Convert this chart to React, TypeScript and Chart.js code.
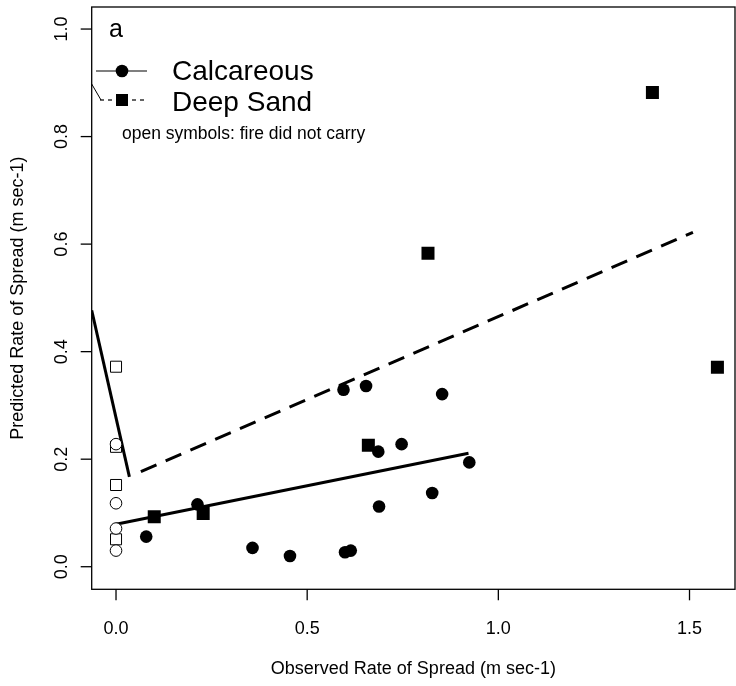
import { useEffect, useRef } from 'react';
import { Chart, registerables } from 'chart.js';

Chart.register(...registerables);

// Calcareous sites where fire carried (observed vs predicted spread, m/s)
const calcObserved = [0.079, 0.213, 0.357, 0.455, 0.595, 0.599, 0.614, 0.654, 0.686, 0.688, 0.747, 0.827, 0.853, 0.924];
const calcPredicted = [0.056, 0.116, 0.035, 0.020, 0.329, 0.027, 0.030, 0.336, 0.214, 0.112, 0.228, 0.137, 0.321, 0.194];

// Deep sand sites where fire carried
const sandObserved = [0.100, 0.228, 0.660, 0.816, 1.403, 1.573];
const sandPredicted = [0.093, 0.099, 0.226, 0.583, 0.882, 0.371];

// Fires that did not carry (observed spread = 0)
const calcNoCarryPredicted = [0.030, 0.071, 0.118, 0.228];
const sandNoCarryPredicted = [0.051, 0.152, 0.223, 0.372];

// Fitted lines
const calcFitX = [0, 0.922];
const calcFitY = [0.079, 0.211];
const sandFitX = [0.065, 1.509];
const sandFitY = [0.177, 0.622];
const steepFitX = [-0.0636, 0.035];
const steepFitY = [0.477, 0.167];

const xTicks = [0, 0.5, 1.0, 1.5];
const yTicks = [0, 0.2, 0.4, 0.6, 0.8, 1.0];

const X_MIN = -0.0636;
const X_MAX = 1.619;
const Y_MIN = -0.042;
const Y_MAX = 1.041;

const FONT = '"Liberation Sans", Arial, Helvetica, sans-serif';

const pts = (xs: number[], ys: number[]) => xs.map((x, i) => ({ x, y: ys[i] }));

const framePlugin = {
  id: 'rframe',
  afterDraw(chart: any) {
    const { ctx, chartArea: a, scales } = chart;
    const xs = scales.x;
    const ys = scales.y;
    ctx.save();
    ctx.strokeStyle = '#000';
    ctx.fillStyle = '#000';
    ctx.lineWidth = 1.3;
    // plot box
    ctx.strokeRect(a.left, a.top, a.right - a.left, a.bottom - a.top);

    // x axis ticks + labels
    ctx.font = `18px ${FONT}`;
    ctx.textAlign = 'center';
    ctx.textBaseline = 'middle';
    xTicks.forEach((v) => {
      const px = xs.getPixelForValue(v);
      ctx.beginPath();
      ctx.moveTo(px, a.bottom);
      ctx.lineTo(px, a.bottom + 11);
      ctx.stroke();
      ctx.fillText(v.toFixed(1), px, a.bottom + 40);
    });
    ctx.fillText('Observed Rate of Spread (m sec-1)', (a.left + a.right) / 2, a.bottom + 80);

    // y axis ticks + rotated labels
    yTicks.forEach((v) => {
      const py = ys.getPixelForValue(v);
      ctx.beginPath();
      ctx.moveTo(a.left, py);
      ctx.lineTo(a.left - 11, py);
      ctx.stroke();
      ctx.save();
      ctx.translate(a.left - 30, py);
      ctx.rotate(-Math.PI / 2);
      ctx.fillText(v.toFixed(1), 0, 0);
      ctx.restore();
    });
    ctx.save();
    ctx.translate(18, (a.top + a.bottom) / 2);
    ctx.rotate(-Math.PI / 2);
    ctx.fillText('Predicted Rate of Spread (m sec-1)', 0, 0);
    ctx.restore();

    // panel letter and legend
    ctx.textAlign = 'left';
    ctx.font = `25px ${FONT}`;
    ctx.fillText('a', 109, 30);

    ctx.lineWidth = 1.2;
    ctx.beginPath();
    ctx.moveTo(96, 71);
    ctx.lineTo(147, 71);
    ctx.stroke();
    ctx.beginPath();
    ctx.arc(122, 71, 6.3, 0, Math.PI * 2);
    ctx.fill();

    ctx.setLineDash([4, 4]);
    ctx.beginPath();
    ctx.moveTo(100, 100);
    ctx.lineTo(147, 100);
    ctx.stroke();
    ctx.setLineDash([]);
    ctx.fillRect(116, 94, 12, 12);
    ctx.lineWidth = 1;
    ctx.beginPath();
    ctx.moveTo(a.left, 84);
    ctx.lineTo(101, 100);
    ctx.stroke();

    ctx.font = `28px ${FONT}`;
    ctx.fillText('Calcareous', 172, 72);
    ctx.fillText('Deep Sand', 172, 103);
    ctx.font = `17.5px ${FONT}`;
    ctx.fillText('open symbols: fire did not carry', 122, 134);
    ctx.restore();
  },
};

export default function App() {
  const ref = useRef<HTMLCanvasElement | null>(null);

  useEffect(() => {
    document.body.style.margin = '0';
    const canvas = ref.current;
    if (!canvas) return;
    const chart = new Chart(canvas, {
      type: 'scatter',
      data: {
        datasets: [
          {
            label: 'Calcareous',
            data: pts(calcObserved, calcPredicted),
            pointStyle: 'circle',
            pointRadius: 6.3,
            borderWidth: 0,
            backgroundColor: '#000',
            borderColor: '#000',
          },
          {
            label: 'Deep Sand',
            data: pts(sandObserved, sandPredicted),
            pointStyle: 'rect',
            pointRadius: 9.2,
            borderWidth: 0,
            backgroundColor: '#000',
            borderColor: '#000',
          },
          {
            label: 'Calcareous (did not carry)',
            data: calcNoCarryPredicted.map((y) => ({ x: 0, y })),
            pointStyle: 'circle',
            pointRadius: 5.8,
            borderWidth: 1,
            backgroundColor: '#fff',
            borderColor: '#000',
          },
          {
            label: 'Deep Sand (did not carry)',
            data: sandNoCarryPredicted.map((y) => ({ x: 0, y })),
            pointStyle: 'rect',
            pointRadius: 7.8,
            borderWidth: 1,
            backgroundColor: '#fff',
            borderColor: '#000',
          },
          {
            label: 'Calcareous fit',
            data: pts(calcFitX, calcFitY),
            showLine: true,
            pointRadius: 0,
            borderWidth: 3,
            borderColor: '#000',
          },
          {
            label: 'Deep Sand fit',
            data: pts(sandFitX, sandFitY),
            showLine: true,
            pointRadius: 0,
            borderWidth: 3,
            borderColor: '#000',
            borderDash: [17, 10],
          },
          {
            label: 'No-carry fit',
            data: pts(steepFitX, steepFitY),
            showLine: true,
            pointRadius: 0,
            borderWidth: 3,
            borderColor: '#000',
          },
        ],
      },
      options: {
        responsive: false,
        animation: false,
        devicePixelRatio: 1,
        layout: { autoPadding: false, padding: { left: 91.7, top: 7, right: 1, bottom: 96.7 } },
        scales: {
          x: { type: 'linear', min: X_MIN, max: X_MAX, display: false },
          y: { type: 'linear', min: Y_MIN, max: Y_MAX, display: false },
        },
        plugins: {
          legend: { display: false },
          tooltip: { enabled: false },
        },
      },
      plugins: [framePlugin],
    });
    return () => chart.destroy();
  }, []);

  return <canvas ref={ref} width={736} height={686} style={{ display: 'block' }} />;
}
